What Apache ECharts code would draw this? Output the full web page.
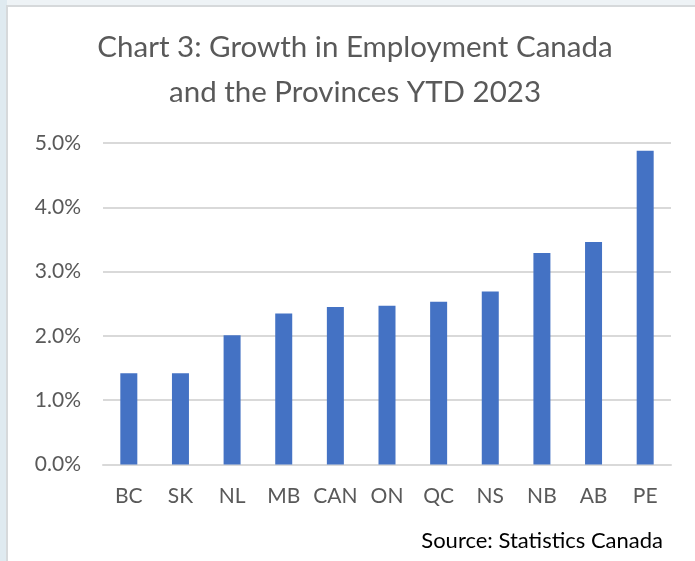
<!DOCTYPE html>
<html>
<head>
<meta charset="utf-8">
<script src="https://cdn.jsdelivr.net/npm/echarts@6/dist/echarts.min.js"></script>
<style>
  html, body { margin: 0; padding: 0; background: #eef3f6; }
  #chart { width: 695px; height: 561px; }
</style>
</head>
<body>
<div id="chart"></div>
<script>
// Year-to-date 2023 employment growth, percent
const regions = ['BC', 'SK', 'NL', 'MB', 'CAN', 'ON', 'QC', 'NS', 'NB', 'AB', 'PE'];
const growth = [1.42, 1.42, 2.01, 2.35, 2.45, 2.47, 2.53, 2.69, 3.29, 3.46, 4.88];
const yTicks = [0, 1, 2, 3, 4, 5];

const titleText = 'Chart 3: Growth in Employment Canada\nand the Provinces YTD 2023';
const sourceText = 'Source: Statistics Canada';
const FONT = 'Lato, "Open Sans", sans-serif';

const chart = echarts.init(document.getElementById('chart'), null, { renderer: 'canvas' });

chart.setOption({
  backgroundColor: 'transparent',
  animation: false,
  graphic: [
    {
      // white card behind the chart
      type: 'rect',
      z: -10,
      shape: { x: 7, y: 6, width: 700, height: 570 },
      style: { fill: '#ffffff', stroke: '#d6d9db', lineWidth: 2 }
    },
    {
      type: 'rect',
      z: -11,
      shape: { x: 0, y: 0, width: 7, height: 561 },
      style: { fill: '#dfeaf0' }
    },
    {
      type: 'text',
      x: 355,
      y: 25,
      style: {
        text: titleText,
        align: 'center',
        verticalAlign: 'top',
        fontFamily: FONT,
        fontSize: 29.5,
        lineHeight: 45,
        fill: '#595959'
      }
    },
    {
      type: 'text',
      x: 663,
      y: 541,
      style: {
        text: sourceText,
        align: 'right',
        verticalAlign: 'middle',
        fontFamily: FONT,
        fontSize: 22,
        fill: '#000000'
      }
    }
  ],
  grid: { left: 103, right: 24, top: 143, bottom: 96.5, containLabel: false },
  xAxis: {
    type: 'category',
    data: regions,
    axisLine: { show: true, lineStyle: { color: '#d9d9d9', width: 2 } },
    axisTick: { show: false },
    axisLabel: {
      interval: 0,
      color: '#595959',
      fontFamily: FONT,
      fontSize: 21,
      margin: 21
    }
  },
  yAxis: {
    type: 'value',
    min: yTicks[0],
    max: yTicks[yTicks.length - 1],
    interval: 1,
    axisLine: { show: false },
    axisTick: { show: false },
    splitLine: { lineStyle: { color: '#d9d9d9', width: 2 } },
    axisLabel: {
      color: '#595959',
      fontFamily: FONT,
      fontSize: 21,
      margin: 22,
      formatter: v => v.toFixed(1) + '%'
    }
  },
  series: [{
    type: 'bar',
    data: growth,
    barWidth: 17,
    itemStyle: { color: '#4472c4' }
  }]
});
</script>
</body>
</html>
